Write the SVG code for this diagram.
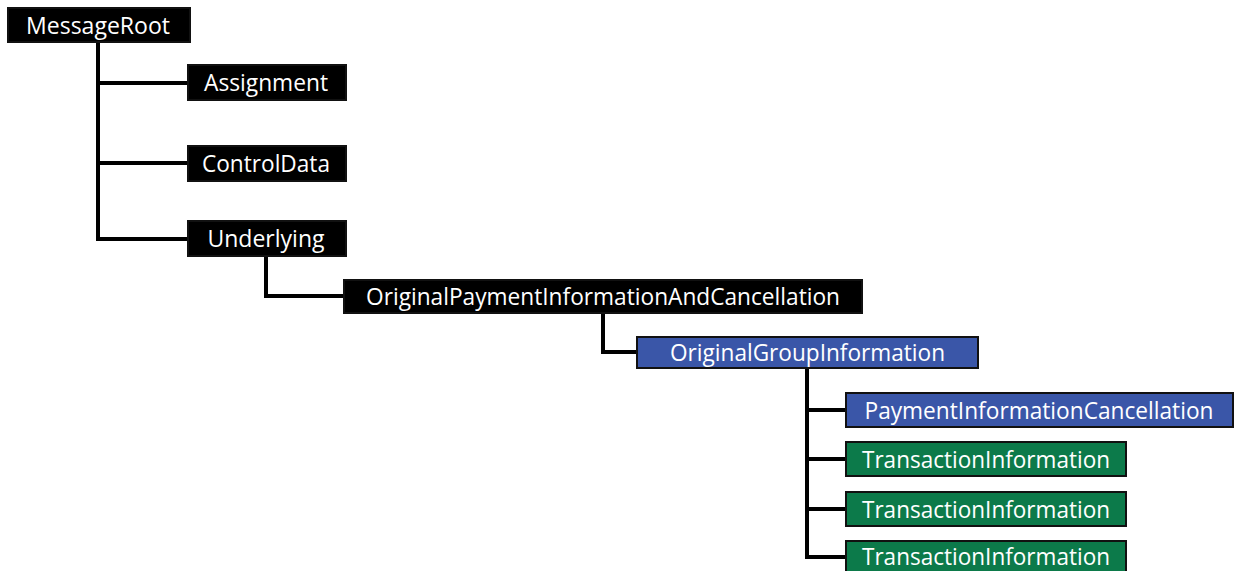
<svg xmlns="http://www.w3.org/2000/svg" width="1240" height="571" viewBox="0 0 1240 571">
<style>
.box{stroke:#111;stroke-width:2}
.blk{fill:#000}
.blu{fill:#3A56A8}
.grn{fill:#0C7A4A}
text{font-family:"Open Sans","Noto Sans","Liberation Sans",sans-serif;font-size:24px;fill:#fff;text-anchor:middle}
.con{fill:none;stroke:#000;stroke-width:4;stroke-linejoin:miter}
</style>
<rect width="1240" height="571" fill="#fff"/>
<g id="connectors">
<path class="con" d="M98,42 V239 H188 M98,83 H188 M98,163 H188"/>
<path class="con" d="M266,256 V296 H344"/>
<path class="con" d="M603,313 V352 H637"/>
<path class="con" d="M807,368 V557 H846 M807,410 H846 M807,459 H846 M807,509 H846"/>
</g>
<g id="n-messageroot"><rect class="box blk" x="8" y="8" width="182" height="34"/><text x="98" y="33.5" textLength="144" lengthAdjust="spacingAndGlyphs">MessageRoot</text></g>
<g id="n-assignment"><rect class="box blk" x="188" y="65" width="158" height="35"/><text x="266" y="91" textLength="124" lengthAdjust="spacingAndGlyphs">Assignment</text></g>
<g id="n-controldata"><rect class="box blk" x="188" y="146" width="158" height="35"/><text x="266" y="172" textLength="128" lengthAdjust="spacingAndGlyphs">ControlData</text></g>
<g id="n-underlying"><rect class="box blk" x="188" y="221" width="158" height="35"/><text x="266" y="247" textLength="117" lengthAdjust="spacingAndGlyphs">Underlying</text></g>
<g id="n-opiac"><rect class="box blk" x="344" y="280" width="518" height="33"/><text x="603" y="305" textLength="474" lengthAdjust="spacingAndGlyphs">OriginalPaymentInformationAndCancellation</text></g>
<g id="n-ogi"><rect class="box blu" x="637" y="337" width="341" height="31"/><text x="807.5" y="361" textLength="275" lengthAdjust="spacingAndGlyphs">OriginalGroupInformation</text></g>
<g id="n-pic"><rect class="box blu" x="846" y="393" width="387" height="34"/><text x="1039" y="418.5" textLength="349" lengthAdjust="spacingAndGlyphs">PaymentInformationCancellation</text></g>
<g id="n-ti1"><rect class="box grn" x="846" y="442" width="280" height="34"/><text x="986" y="467.5" textLength="248" lengthAdjust="spacingAndGlyphs">TransactionInformation</text></g>
<g id="n-ti2"><rect class="box grn" x="846" y="492" width="280" height="34"/><text x="986" y="517.5" textLength="248" lengthAdjust="spacingAndGlyphs">TransactionInformation</text></g>
<g id="n-ti3"><rect class="box grn" x="846" y="541" width="280" height="40"/><text x="986" y="565" textLength="248" lengthAdjust="spacingAndGlyphs">TransactionInformation</text></g>
</svg>
